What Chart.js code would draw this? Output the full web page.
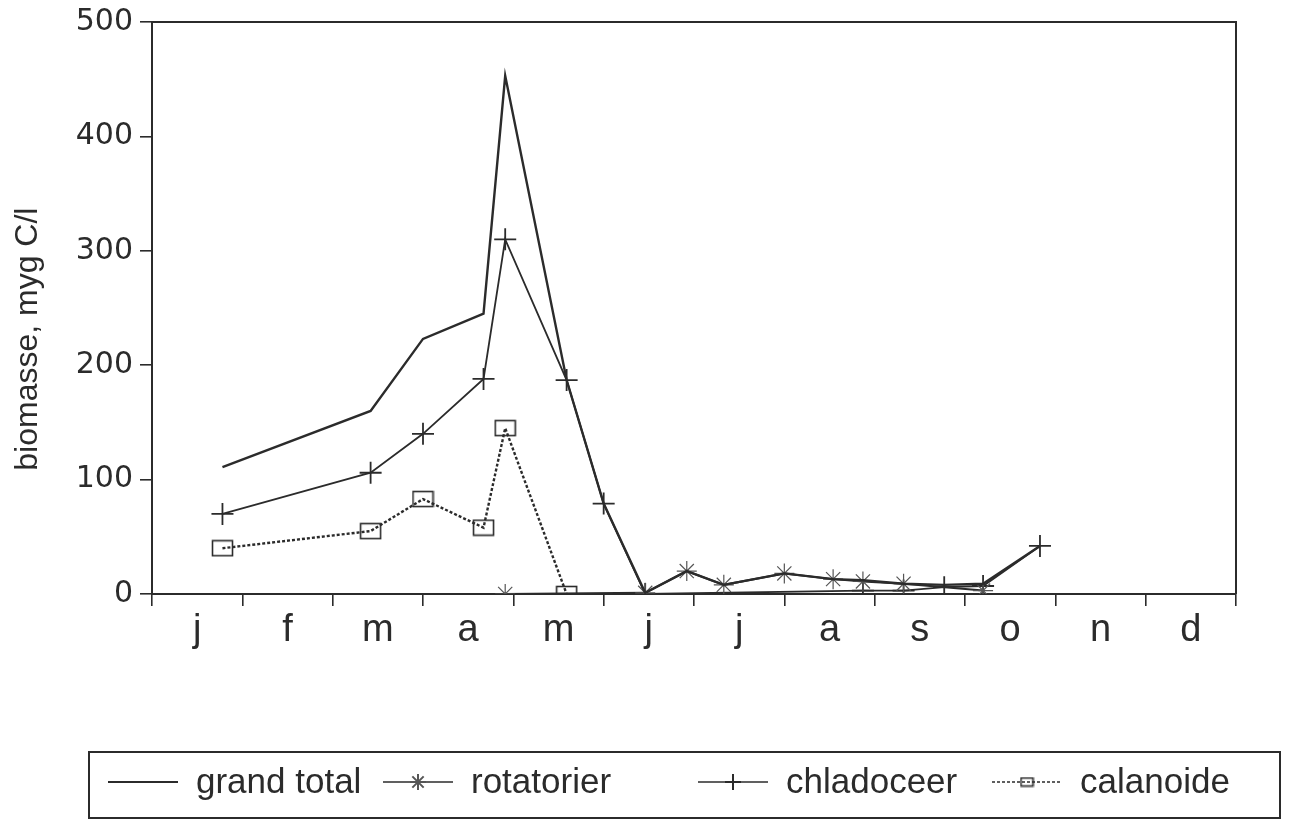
<!DOCTYPE html>
<html>
<head>
<meta charset="utf-8">
<title>biomasse</title>
<script src="https://cdn.jsdelivr.net/npm/chart.js@4/dist/chart.umd.min.js"></script>
<style>
  body { margin: 0; background: #fff; }
  #wrap { width: 1290px; height: 822px; }
</style>
</head>
<body>
<div id="wrap"><canvas id="biomass-chart" width="1290" height="822"></canvas></div>
<script>
// DATA (x in months from 1 january)
const monthLabels = ["j", "f", "m", "a", "m", "j", "j", "a", "s", "o", "n", "d"];
const yTicks = [0, 100, 200, 300, 400, 500];
const sampleMonths = [0.78, 2.42, 3.0, 3.67, 3.91, 4.59, 5.0, 5.46, 5.92, 6.33, 7.0, 7.54, 7.87, 8.32, 8.77, 9.2, 9.83];
const grandTotal = [111, 160, 223, 245, 453, 187, 79, 1, 20, 8, 18, 13, 12, 9, 8, 9, 42];
const rotatorier = [null, null, null, null, 0, null, null, 1, 20, 8, 18, 13, 11, 9, null, 3, null];
const chladoceer = [70, 106, 140, 188, 310, 187, 79, 0, null, null, null, null, 3, 3, 6, 7, 42];
const calanoide = [40, 55, 83, 58, 145, 0, null, null, null, null, null, null, null, null, null, null, null];

const ink = "#2b2b2b";

// pair sample dates with a series, dropping dates without a value
function toPoints(values) {
    return sampleMonths
        .map((m, i) => ({ x: m, y: values[i] }))
        .filter((p) => p.y !== null);
}

// hollow box marker, wider than tall
function boxMarker(w, h) {
    const c = document.createElement("canvas");
    c.width = w + 3;
    c.height = h + 3;
    const g = c.getContext("2d");
    g.strokeStyle = ink;
    g.lineWidth = 1.6;
    g.strokeRect(1.5, 1.5, w, h);
    return c;
}

// month boundaries get tick marks, month middles get the letters
const xTickValues = [];
for (let i = 0; i <= monthLabels.length; i++) {
    xTickValues.push(i);
    if (i < monthLabels.length) xTickValues.push(i + 0.5);
}

// frame on top/right + boxed legend under the axis
const framePlugin = {
    id: "frameAndLegend",
    afterDraw(chart) {
        const { ctx, chartArea } = chart;
        ctx.save();
        ctx.strokeStyle = ink;
        ctx.lineWidth = 2;
        ctx.beginPath();
        ctx.moveTo(chartArea.left, chartArea.top);
        ctx.lineTo(chartArea.right, chartArea.top);
        ctx.lineTo(chartArea.right, chartArea.bottom);
        ctx.stroke();

        // legend box
        ctx.lineWidth = 2;
        ctx.strokeRect(89, 752, 1191, 66);

        const startX = [108, 383, 698, 992];
        const legendMarkers = [null, "star", "cross", boxMarker(12, 8)];
        const y = 782;
        ctx.font = "35px 'Liberation Sans', Arial, sans-serif";
        ctx.textBaseline = "middle";
        ctx.fillStyle = ink;
        chart.data.datasets.forEach((ds, i) => {
            const x0 = startX[i];
            ctx.save();
            ctx.strokeStyle = ds.borderColor;
            ctx.lineWidth = i === 0 ? 2 : 1.6;
            ctx.setLineDash(ds.borderDash || []);
            ctx.beginPath();
            ctx.moveTo(x0, y);
            ctx.lineTo(x0 + 70, y);
            ctx.stroke();
            ctx.restore();
            if (legendMarkers[i]) {
                ctx.save();
                ctx.strokeStyle = ds.pointBorderColor || ink;
                ctx.fillStyle = "rgba(0,0,0,0)";
                Chart.helpers.drawPoint(ctx, {
                    pointStyle: legendMarkers[i],
                    radius: 8,
                    rotation: 0,
                    borderWidth: 1.2,
                }, x0 + 35, y);
                ctx.restore();
            }
            ctx.fillText(ds.label, x0 + 88, y + 1);
        });
        ctx.restore();
    },
};

const ctx = document.getElementById("biomass-chart").getContext("2d");

const data = {
    datasets: [
        {
            label: "grand total",
            data: toPoints(grandTotal),
            borderColor: ink,
            borderWidth: 2.4,
            pointRadius: 0,
        },
        {
            label: "rotatorier",
            data: toPoints(rotatorier),
            borderColor: ink,
            borderWidth: 2,
            pointStyle: "star",
            pointRadius: 10,
            pointBorderColor: "#555",
            pointBorderWidth: 1.2,
            pointBackgroundColor: "rgba(0,0,0,0)",
        },
        {
            label: "chladoceer",
            data: toPoints(chladoceer),
            borderColor: ink,
            borderWidth: 1.8,
            pointStyle: "cross",
            pointRadius: 11,
            pointBorderColor: ink,
            pointBorderWidth: 1.8,
            pointBackgroundColor: "rgba(0,0,0,0)",
        },
        {
            label: "calanoide",
            data: toPoints(calanoide),
            borderColor: ink,
            borderWidth: 2.4,
            borderDash: [3, 2],
            pointStyle: boxMarker(20, 15),
            pointRadius: 10,
            pointBackgroundColor: "rgba(0,0,0,0)",
        },
    ],
};

const config = {
    type: "line",
    data: data,
    options: {
        responsive: false,
        animation: false,
        events: [],
        devicePixelRatio: 1,
        tension: 0,
        layout: { padding: { left: 0, top: 20, right: 54, bottom: 0 } },
        plugins: {
            legend: { display: false },
            tooltip: { enabled: false },
        },
        scales: {
            x: {
                type: "linear",
                min: 0,
                max: 12,
                afterBuildTicks: (scale) => {
                    scale.ticks = xTickValues.map((v) => ({ value: v }));
                },
                afterFit: (scale) => {
                    scale.height = 822 - 594;
                },
                ticks: {
                    autoSkip: false,
                    maxRotation: 0,
                    minRotation: 0,
                    padding: 2,
                    color: ink,
                    font: { family: "'Liberation Sans Narrow', 'Liberation Sans', sans-serif", size: 38 },
                    callback: (v) => (v % 1 === 0 ? "" : monthLabels[Math.floor(v)]),
                },
                grid: {
                    drawOnChartArea: false,
                    tickLength: 12,
                    lineWidth: 1.6,
                    color: (c) => (c.tick && c.tick.value % 1 === 0 ? ink : "rgba(0,0,0,0)"),
                },
                border: { color: ink, width: 2 },
            },
            y: {
                min: 0,
                max: 500,
                afterBuildTicks: (scale) => {
                    scale.ticks = yTicks.map((v) => ({ value: v }));
                },
                afterFit: (scale) => {
                    scale.width = 152;
                },
                ticks: {
                    padding: 7,
                    color: ink,
                    font: { family: "'DejaVu Sans', sans-serif", size: 30, lineHeight: 1 },
                },
                grid: {
                    drawOnChartArea: false,
                    tickLength: 12,
                    lineWidth: 1.6,
                    color: ink,
                },
                border: { color: ink, width: 2 },
                title: {
                    display: true,
                    // trailing spaces push the rotated label a bit lower, as in the original
                    text: "biomasse, myg C/l" + "\u00a0".repeat(7),
                    color: ink,
                    padding: { top: 9, bottom: 0 },
                    font: { family: "'Liberation Sans', Arial, sans-serif", size: 32 },
                },
            },
        },
    },
    plugins: [framePlugin],
};

const myChart = new Chart(ctx, config);
</script>
</body>
</html>
